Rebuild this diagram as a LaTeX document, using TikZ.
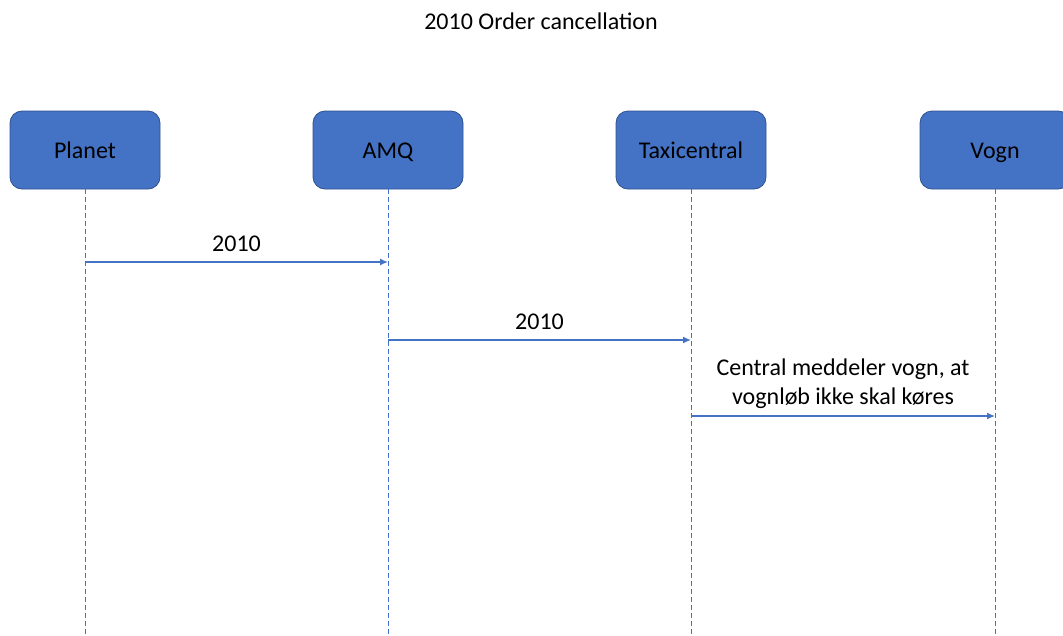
\documentclass[tikz,border=0pt]{standalone}
\usepackage{fontspec}
\setmainfont{Carlito}
\usetikzlibrary{arrows.meta}
\definecolor{boxfill}{HTML}{4472C4}
\definecolor{boxline}{HTML}{2F528F}
\definecolor{lineblue}{HTML}{4472C4}
\begin{document}
\begin{tikzpicture}[x=1pt,y=-1pt,
  actor/.style={draw=boxline,line width=0.8pt,fill=boxfill,rounded corners=12pt,minimum width=150pt,minimum height=78pt,inner sep=0pt,font=\fontsize{24}{29}\selectfont,text=black,text height=20pt,text depth=4pt},
  lifeline/.style={draw=lineblue,dashed,dash pattern=on 5pt off 3pt,line width=0.8pt},
  msg/.style={draw=lineblue,line width=1.4pt,-{Latex[length=8pt,width=7pt]}},
  lbl/.style={font=\fontsize{24}{29}\selectfont,align=center,text=black}]
\useasboundingbox (0,0) rectangle (1063,635);
\node[lbl] (title) at (541,21) {2010 Order cancellation};
\node[actor] (planet) at (85,150) {Planet};
\node[actor] (amq) at (388,150) {AMQ};
\node[actor] (taxi) at (691,150) {Taxicentral};
\node[actor] (vogn) at (995,150) {Vogn};
\foreach \n/\x in {planet/85,amq/388,taxi/691,vogn/995}{
  \coordinate (\n-end) at (\x,640);
  \draw[lifeline] (\n.south) -- (\n-end);
}
\coordinate (a1) at (85,262); \coordinate (b1) at (388,262);
\coordinate (a2) at (388,340); \coordinate (b2) at (691,340);
\coordinate (a3) at (691,416); \coordinate (b3) at (995,416);
\draw[msg] (a1) -- node[lbl,above=6pt] {2010} (b1);
\draw[msg] (a2) -- node[lbl,above=6pt] {2010} (b2);
\draw[msg] (a3) -- node[lbl,above=3pt] {Central meddeler vogn, at\\vognløb ikke skal køres} (b3);
\end{tikzpicture}
\end{document}
